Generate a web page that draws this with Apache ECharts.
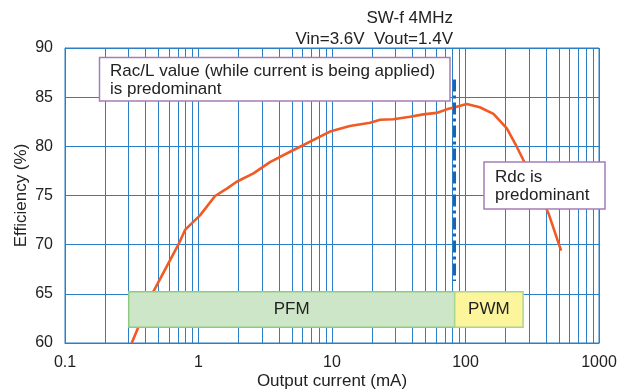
<!DOCTYPE html>
<html>
<head>
<meta charset="utf-8">
<script src="https://cdn.jsdelivr.net/npm/echarts@6/dist/echarts.min.js"></script>
<style>
  html, body { margin: 0; padding: 0; background: #fff; }
  #chart { width: 617px; height: 391px; }
</style>
</head>
<body>
<div id="chart"></div>
<script>
// efficiency curve
const currentMA = [0.316, 0.458, 0.706, 0.793, 1.03, 1.33, 1.63, 1.93, 2.58, 3.43, 4.85, 5.76, 8.13, 9.66, 13.6, 19.3, 22.9, 28.8, 38.4, 48.3, 60.8, 72.3, 85.9, 102, 128, 162, 204, 242, 288, 418, 520]
const efficiency = [60.0, 65.2, 70.0, 71.5, 73.0, 74.95, 75.7, 76.4, 77.25, 78.4, 79.45, 79.96, 80.98, 81.5, 82.07, 82.4, 82.7, 82.75, 83.0, 83.25, 83.4, 83.76, 84.03, 84.3, 83.97, 83.3, 81.83, 79.96, 77.9, 73.2, 69.4]

// mode bands: [from mA, to mA], [low %, high %]
const pfmRange = [0.3, 83]
const pwmRange = [83, 270]
const bandEff = [61.6, 65.2]

// PFM / PWM boundary marker
const boundaryMA = 83
const boundaryEff = [66.3, 86.8]

const xTickLabels = ['0.1', '1', '10', '100', '1000']
const decades = [0.1, 1, 10, 100]

const BLUE = '#2a7fc6'
const FONT = '"Liberation Sans", Arial, sans-serif'

// log grid lines at 2..9 of each decade
const gridX = []
decades.forEach((d) => {
  for (let k = 2; k <= 9; k++) gridX.push(k * d)
})

const chart = echarts.init(document.getElementById('chart'), null, { renderer: 'canvas' })

chart.setOption({
  animation: false,
  textStyle: { fontFamily: FONT },
  grid: {
    left: 65, right: 18, top: 48, bottom: 48,
    outerBoundsMode: 'none',
    containLabel: false,
    show: true, borderColor: BLUE, borderWidth: 1,
  },
  xAxis: {
    type: 'log',
    logBase: 10,
    min: 0.1,
    max: 1000,
    name: 'Output current (mA)',
    nameLocation: 'middle',
    nameGap: 30,
    nameMoveOverlap: false,
    nameTextStyle: { fontSize: 17, color: '#222', fontFamily: FONT },
    axisLine: { show: true, lineStyle: { color: BLUE, width: 1 } },
    axisTick: { show: false },
    splitLine: { show: true, lineStyle: { color: BLUE, width: 1 } },
    axisLabel: {
      fontSize: 16, color: '#222', margin: 12, fontFamily: FONT,
      formatter: (v) => xTickLabels.find((t) => Math.abs(Number(t) - v) < 1e-9 * Math.max(1, v)) || '',
    },
  },
  yAxis: {
    type: 'value',
    min: 60,
    max: 90,
    interval: 5,
    name: 'Efficiency (%)',
    nameLocation: 'middle',
    nameGap: 35,
    nameMoveOverlap: false,
    nameTextStyle: { fontSize: 17, color: '#222', fontFamily: FONT },
    axisLine: { show: true, lineStyle: { color: BLUE, width: 1 } },
    axisTick: { show: false },
    splitLine: { show: true, lineStyle: { color: BLUE, width: 1 } },
    axisLabel: { fontSize: 16, color: '#222', margin: 12, fontFamily: FONT },
  },
  series: [
    {
      // minor log grid lines
      type: 'line',
      data: [],
      z: 1,
      silent: true,
      markLine: {
        z: 1,
        silent: true,
        symbol: 'none',
        animation: false,
        label: { show: false },
        lineStyle: { color: BLUE, width: 1, type: 'solid' },
        data: gridX.map((v) => ({ xAxis: v })),
      },
    },
    {
      name: 'Efficiency',
      type: 'line',
      z: 3,
      data: currentMA.map((x, i) => [x, efficiency[i]]),
      showSymbol: false,
      lineStyle: { color: '#f15a24', width: 2.6 },
      markLine: {
        z: 4,
        silent: true,
        symbol: 'none',
        label: { show: false },
        lineStyle: { color: '#1565b8', width: 3, type: [12, 4, 3, 4] },
        data: [[
          { coord: [boundaryMA, boundaryEff[1]] },
          { coord: [boundaryMA, boundaryEff[0]] },
        ]],
      },
    },
    {
      // PFM / PWM bands sit over the curve
      type: 'line',
      data: [],
      z: 10,
      markArea: {
        z: 10,
        silent: true,
        label: { show: true, position: 'inside', fontSize: 17, color: '#222', fontFamily: FONT },
        itemStyle: { opacity: 1 },
        data: [
          [
            { name: 'PFM', xAxis: pfmRange[0], yAxis: bandEff[0], itemStyle: { color: '#cde6c8', borderColor: '#8dcb80', borderWidth: 1.5, opacity: 1 } },
            { xAxis: pfmRange[1], yAxis: bandEff[1] },
          ],
          [
            { name: 'PWM', xAxis: pwmRange[0], yAxis: bandEff[0], itemStyle: { color: '#fdf59b', borderColor: '#a9d68e', borderWidth: 1.5, opacity: 1 } },
            { xAxis: pwmRange[1], yAxis: bandEff[1] },
          ],
        ],
      },
    },
  ],
  graphic: [
    {
      type: 'text', z: 100, x: 453, y: 18,
      style: { text: 'SW-f 4MHz', font: `17px ${FONT}`, fill: '#222', align: 'right', verticalAlign: 'middle' },
    },
    {
      type: 'text', z: 100, x: 453, y: 39,
      style: { text: 'Vin=3.6V  Vout=1.4V', font: `17px ${FONT}`, fill: '#222', align: 'right', verticalAlign: 'middle' },
    },
    {
      type: 'rect', z: 100,
      shape: { x: 99.5, y: 57.5, width: 350.5, height: 43.5 },
      style: { fill: '#fff', stroke: '#a77cb8', lineWidth: 1.5 },
    },
    {
      type: 'text', z: 101, x: 110, y: 80,
      style: {
        text: 'Rac/L value (while current is being applied)\nis predominant',
        font: `17px ${FONT}`, fill: '#222', lineHeight: 18, verticalAlign: 'middle',
      },
    },
    {
      type: 'rect', z: 100,
      shape: { x: 484, y: 162, width: 121, height: 47 },
      style: { fill: '#fff', stroke: '#a77cb8', lineWidth: 1.5 },
    },
    {
      type: 'text', z: 101, x: 495, y: 186,
      style: {
        text: 'Rdc is\npredominant',
        font: `17px ${FONT}`, fill: '#222', lineHeight: 18, verticalAlign: 'middle',
      },
    },
  ],
})

window.addEventListener('resize', () => chart.resize())
</script>
</body>
</html>
